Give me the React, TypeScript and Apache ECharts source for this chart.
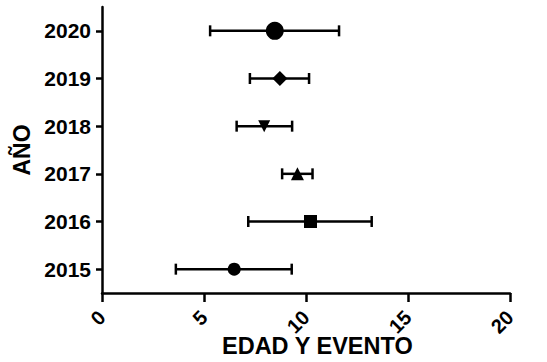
import React, { useEffect, useRef } from "react";
import * as echarts from "echarts";

const years = ["2015", "2016", "2017", "2018", "2019", "2020"];
const means = [6.48, 10.22, 9.58, 7.95, 8.72, 8.47];
const lowers = [3.62, 7.17, 8.83, 6.6, 7.25, 5.3];
const uppers = [9.3, 13.22, 10.32, 9.32, 10.15, 11.62];
const markerShapes = ["circle", "rect", "triangle", "triangle", "diamond", "circle"];
const markerSizes = [13, 13, 13, 12, 15, 18];
const markerRotations = [0, 0, 0, 180, 0, 0];
const xTicks = [0, 5, 10, 15, 20];

const FONT = "Liberation Sans, Arial, sans-serif";

export default function App() {
  const ref = useRef<HTMLDivElement>(null);
  useEffect(() => {
    if (!ref.current) return;
    const chart = echarts.init(ref.current, null, { renderer: "svg" });
    const errData = years.map((_, i) => [lowers[i], uppers[i], i]);
    const scatterSeries = years.map((y, i) => ({
      type: "scatter",
      data: [[means[i], i]],
      symbol: markerShapes[i],
      symbolSize: markerSizes[i],
      symbolRotate: markerRotations[i],
      itemStyle: { color: "#000", opacity: 1 },
      z: 5,
    }));
    chart.setOption({
      animation: false,
      grid: { left: 102, right: 37, top: 7, bottom: 69 },
      xAxis: {
        type: "value",
        min: xTicks[0],
        max: xTicks[xTicks.length - 1],
        interval: 5,
        splitLine: { show: false },
        axisLine: { show: true, lineStyle: { color: "#000", width: 2.5 } },
        axisTick: { show: true, length: 9, lineStyle: { color: "#000", width: 2.5 } },
        axisLabel: {
          rotate: 45,
          color: "#000",
          fontFamily: FONT,
          fontWeight: "bold",
          fontSize: 20,
          margin: 21,
        },
      },
      yAxis: {
        type: "category",
        data: years,
        boundaryGap: true,
        axisLine: { show: true, lineStyle: { color: "#000", width: 2.5 } },
        axisTick: { show: true, alignWithLabel: true, length: 6, lineStyle: { color: "#000", width: 2.5 } },
        axisLabel: {
          color: "#000",
          fontFamily: FONT,
          fontWeight: "bold",
          fontSize: 21,
          margin: 11,
        },
        name: "AÑO",
        nameLocation: "middle",
        nameGap: 64,
        nameRotate: 90,
        nameTextStyle: { color: "#000", fontFamily: FONT, fontWeight: "bold", fontSize: 23 },
      },
      graphic: [
        {
          type: "text",
          left: 222,
          top: 334,
          style: {
            text: "EDAD Y EVENTO",
            fill: "#000",
            font: "bold 23.5px " + FONT,
          },
        },
      ],
      series: [
        {
          type: "custom",
          data: errData,
          renderItem: (params: any, api: any) => {
            const lo = api.coord([api.value(0), api.value(2)]);
            const hi = api.coord([api.value(1), api.value(2)]);
            const h = 5.5;
            const style = { stroke: "#000", lineWidth: 2.5 };
            return {
              type: "group",
              children: [
                { type: "line", shape: { x1: lo[0], y1: lo[1], x2: hi[0], y2: hi[1] }, style },
                { type: "line", shape: { x1: lo[0], y1: lo[1] - h, x2: lo[0], y2: lo[1] + h }, style },
                { type: "line", shape: { x1: hi[0], y1: hi[1] - h, x2: hi[0], y2: hi[1] + h }, style },
              ],
            };
          },
          z: 3,
        },
        ...scatterSeries,
      ],
    });
    return () => chart.dispose();
  }, []);
  return <div ref={ref} style={{ width: 547, height: 362, position: "absolute", left: 0, top: 0 }} />;
}
